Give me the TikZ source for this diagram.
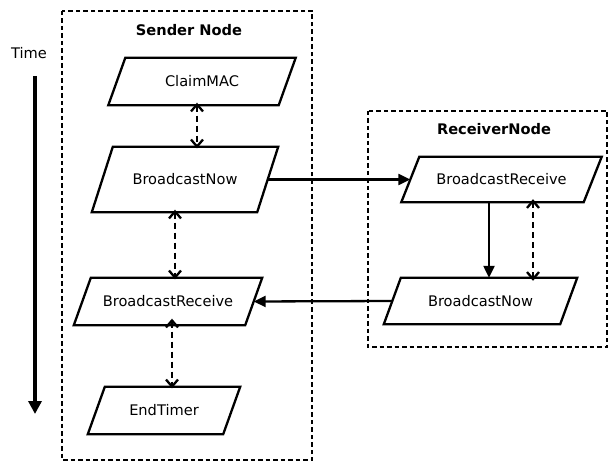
\documentclass[tikz,border=0pt]{standalone}
\usepackage{fontspec}
\setmainfont{DejaVu Sans}
\usetikzlibrary{arrows.meta}

% parallelogram drawn around a (borderless) rectangular node
\newcommand\drawpara[2]{%
  \draw[shapeline] ([xshift=#2/2]#1.north west) -- ([xshift=#2/2]#1.north east)
    -- ([xshift=-#2/2]#1.south east) -- ([xshift=-#2/2]#1.south west) -- cycle;}

\begin{document}
\begin{tikzpicture}[x=1pt,y=-1pt,
  every node/.style={font=\fontsize{14.6pt}{17pt}\selectfont},
  proc/.style={draw=none,inner sep=0pt},
  shapeline/.style={line width=2.3pt,line join=miter},
  groupbox/.style={line width=2.2pt,dash pattern=on 4.5pt off 3pt},
  title/.style={font=\fontsize{14.6pt}{17pt}\selectfont\bfseries},
  flow/.style={line width=2.3pt,-{Triangle[length=12pt,width=11pt]}},
  barb/.style={},
  link/.style={line width=2.3pt,dash pattern=on 6pt off 4pt,
    {Straight Barb[length=7pt,width=12pt,line width=2.3pt]}-{Straight Barb[length=7pt,width=12pt,line width=2.3pt]}},
  timeline/.style={line width=4.5pt,-{Triangle[length=13pt,width=13pt]}}]

\useasboundingbox (0,0) rectangle (610,462);

% group frames
\draw[groupbox] (62,11) rectangle (312,460);
\draw[groupbox] (368,111) rectangle (607,347);
\node[title] (sendertitle) at (189,30) {Sender Node};
\node[title] (receivertitle) at (494,129) {ReceiverNode};

% time axis
\node (timelabel) at (29,53) {Time};
\coordinate (tstart) at (35,76);
\coordinate (tend) at (35,414);
\draw[timeline] (tstart) -- (tend);

% sender steps
\node[proc,minimum width=170pt,minimum height=47pt] (claim) at (202,81.5) {ClaimMAC};
\node[proc,minimum width=165pt,minimum height=65pt] (sbn) at (185,179.5) {BroadcastNow};
\node[proc,minimum width=171pt,minimum height=47pt] (sbr) at (168,301.5) {BroadcastReceive};
\node[proc,minimum width=135pt,minimum height=47pt] (endt) at (164,410.5) {EndTimer};
\drawpara{claim}{17pt}
\drawpara{sbn}{21pt}
\drawpara{sbr}{17pt}
\drawpara{endt}{17pt}

% receiver steps
\node[proc,minimum width=182pt,minimum height=45pt] (rbr) at (501.5,179.5) {BroadcastReceive};
\node[proc,minimum width=176pt,minimum height=46pt] (rbn) at (480.5,301) {BroadcastNow};
\drawpara{rbr}{18pt}
\drawpara{rbn}{17pt}

% message flow between the nodes
\draw[flow] (sbn.east) -- (rbr.west);
\draw[flow] (rbn.west) -- (sbr.east);
\draw[flow] ([xshift=-12.5pt]rbr.south) -- ([xshift=-12.5pt]rbr.south |- rbn.north);

% ordering links
\draw[link] ([xshift=-5pt,yshift=2.5pt]claim.south) -- ([xshift=-5pt,yshift=-1.5pt]claim.south |- sbn.north);
\draw[link] ([xshift=-10pt,yshift=2.5pt]sbn.south) -- ([xshift=-10pt,yshift=-1.5pt]sbn.south |- sbr.north);
\draw[link] ([xshift=4pt,yshift=6.5pt]sbr.south) -- ([xshift=4pt,yshift=-1.5pt]sbr.south |- endt.north);
\draw[link] ([xshift=31.5pt,yshift=3pt]rbr.south) -- ([xshift=31.5pt,yshift=-3pt]rbr.south |- rbn.north);

\end{tikzpicture}
\end{document}
